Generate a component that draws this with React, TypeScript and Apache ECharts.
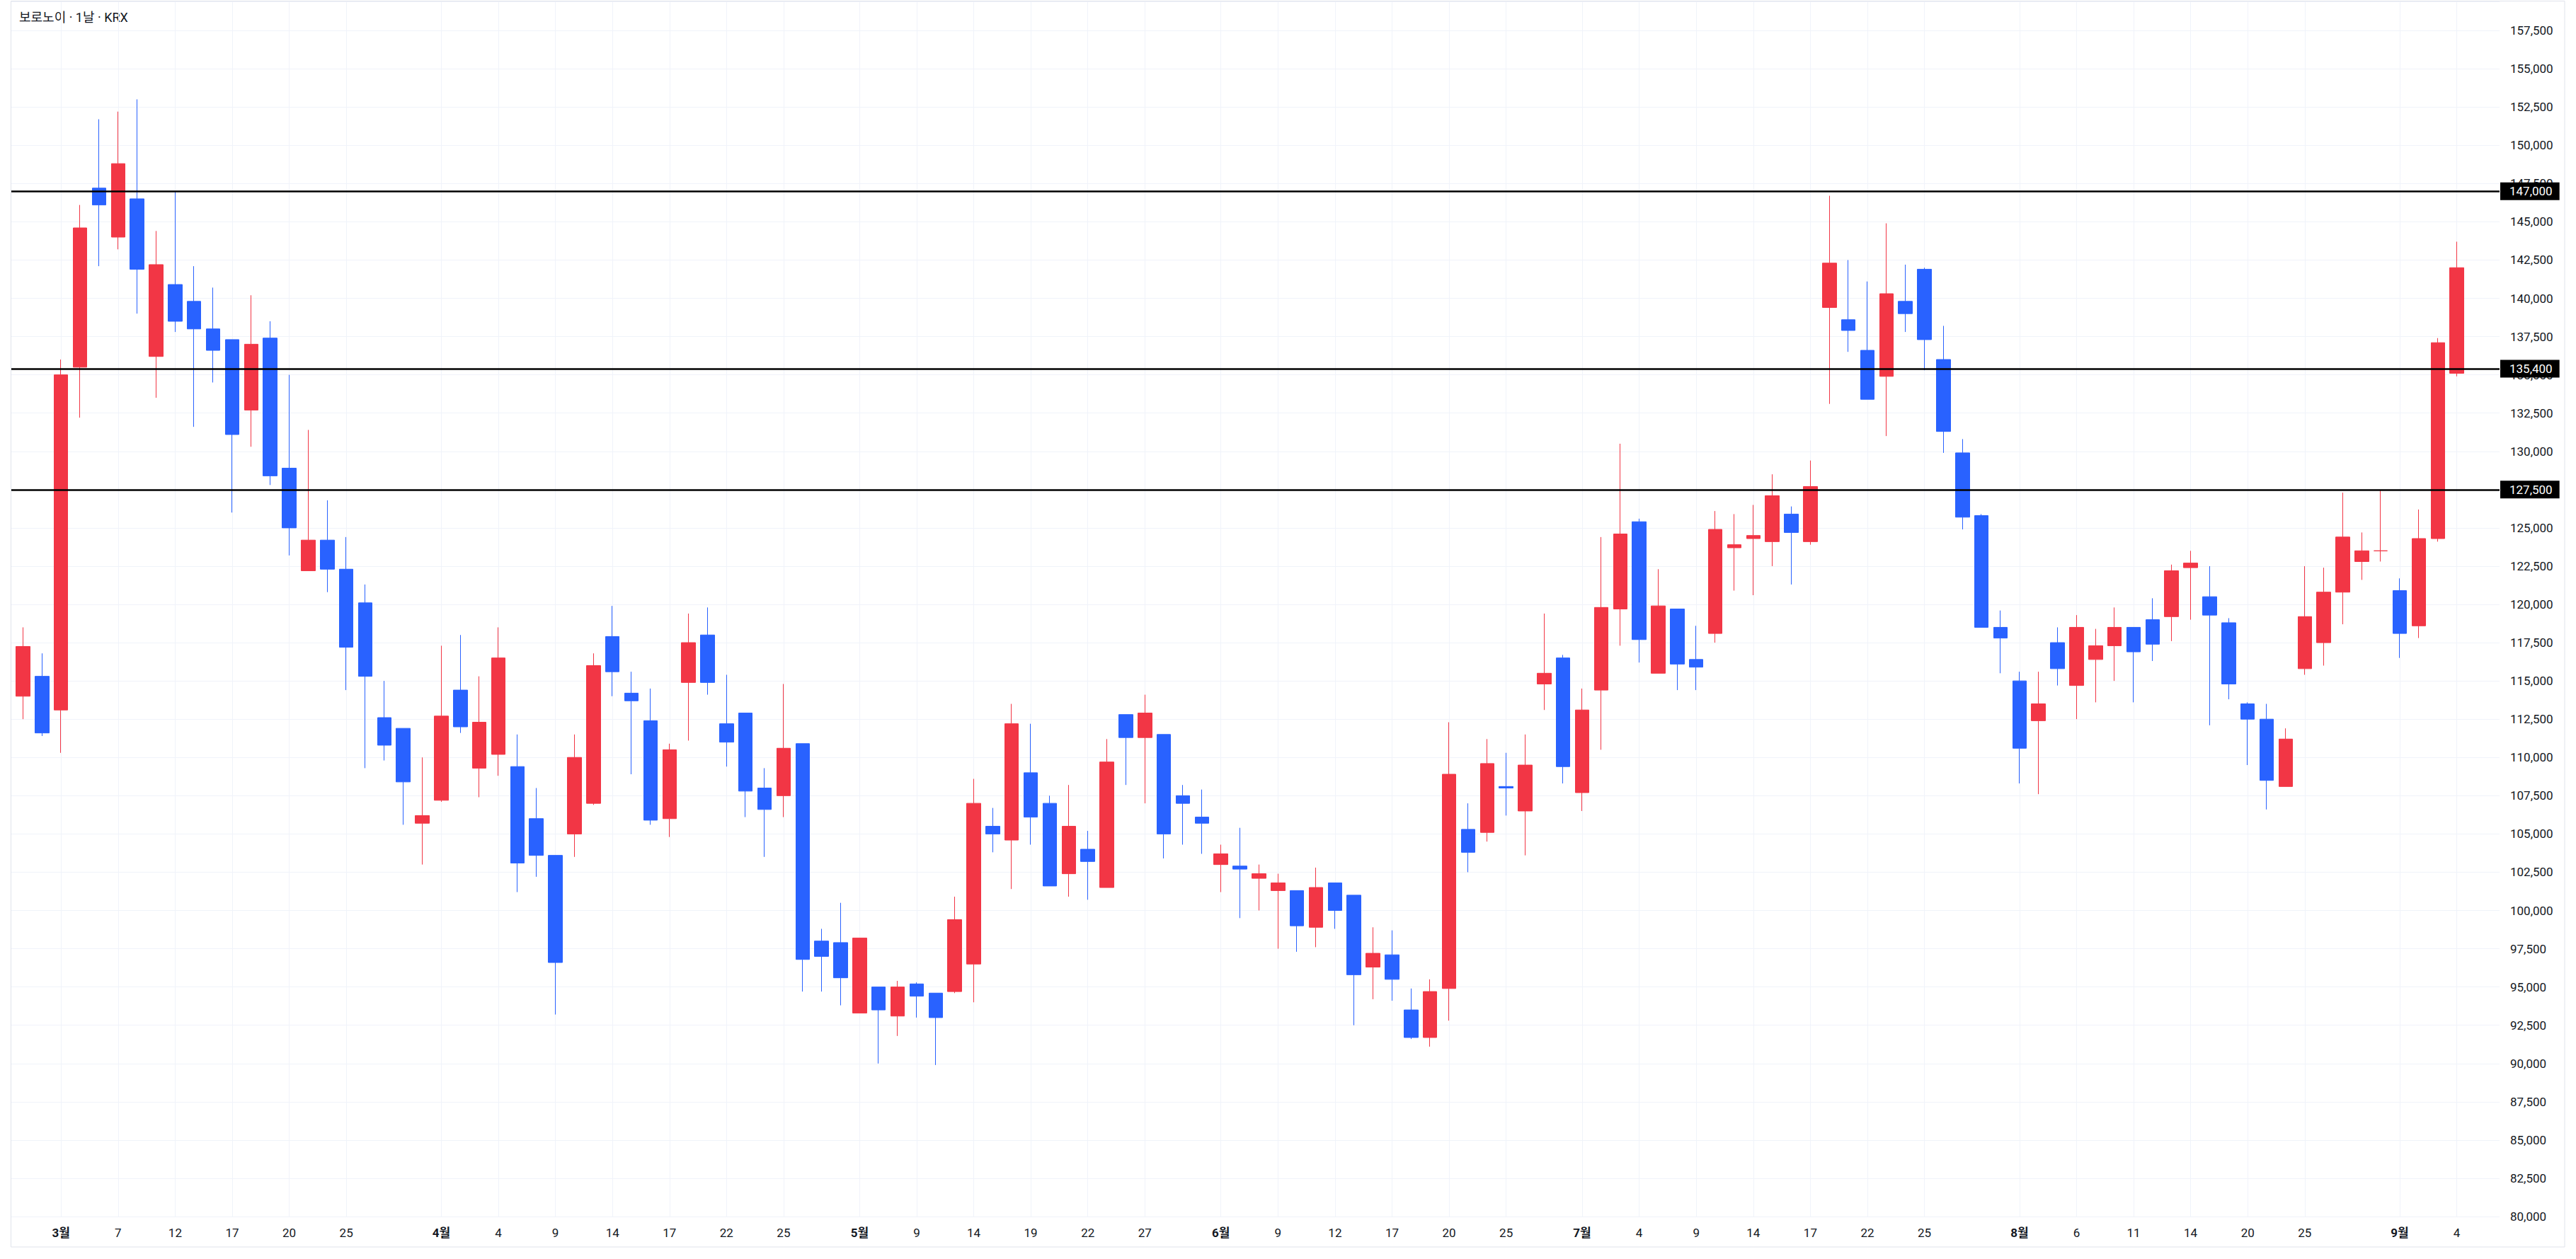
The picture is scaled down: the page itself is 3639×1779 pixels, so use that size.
import React, { useEffect, useRef } from 'react';
import * as echarts from 'echarts';

const dates = [
  '2025-02-27','2025-02-28',
  '2025-03-04','2025-03-05','2025-03-06','2025-03-07','2025-03-10','2025-03-11','2025-03-12','2025-03-13','2025-03-14','2025-03-17',
  '2025-03-18','2025-03-19','2025-03-20','2025-03-21','2025-03-24','2025-03-25','2025-03-26','2025-03-27','2025-03-28','2025-03-31',
  '2025-04-01','2025-04-02','2025-04-03','2025-04-04','2025-04-07','2025-04-08','2025-04-09','2025-04-10','2025-04-11','2025-04-14',
  '2025-04-15','2025-04-16','2025-04-17','2025-04-18','2025-04-21','2025-04-22','2025-04-23','2025-04-24','2025-04-25','2025-04-28',
  '2025-04-29','2025-04-30',
  '2025-05-02','2025-05-07','2025-05-08','2025-05-09','2025-05-12','2025-05-13','2025-05-14','2025-05-15','2025-05-16','2025-05-19',
  '2025-05-20','2025-05-21','2025-05-22','2025-05-23','2025-05-26','2025-05-27','2025-05-28','2025-05-29','2025-05-30',
  '2025-06-02','2025-06-04','2025-06-05','2025-06-09','2025-06-10','2025-06-11','2025-06-12','2025-06-13','2025-06-16','2025-06-17',
  '2025-06-18','2025-06-19','2025-06-20','2025-06-23','2025-06-24','2025-06-25','2025-06-26','2025-06-27','2025-06-30',
  '2025-07-01','2025-07-02','2025-07-03','2025-07-04','2025-07-07','2025-07-08','2025-07-09','2025-07-10','2025-07-11','2025-07-14',
  '2025-07-15','2025-07-16','2025-07-17','2025-07-18','2025-07-21','2025-07-22','2025-07-23','2025-07-24','2025-07-25','2025-07-28',
  '2025-07-29','2025-07-30','2025-07-31',
  '2025-08-01','2025-08-04','2025-08-05','2025-08-06','2025-08-07','2025-08-08','2025-08-11','2025-08-12','2025-08-13','2025-08-14',
  '2025-08-18','2025-08-19','2025-08-20','2025-08-21','2025-08-22','2025-08-25','2025-08-26','2025-08-27','2025-08-28','2025-08-29',
  '2025-09-01','2025-09-02','2025-09-03','2025-09-04',
];

const opens = [
  114000,115300,
  113100,135500,147200,144000,146500,136200,140900,139800,138000,137300,
  132700,137400,128900,122200,124200,122300,120100,112600,111900,105700,
  107200,114400,109300,110200,109400,106000,103600,105000,107000,117900,
  114200,112400,106000,114900,118000,112200,112900,108000,107500,110900,
  98000,97900,
  93300,95000,93100,95200,94600,94700,96500,105500,104600,109000,
  107000,102400,104000,101500,112800,111300,111500,107500,106100,
  103000,102900,102100,101300,101300,98900,101800,101000,96300,97100,
  93500,91700,94900,105300,105100,108100,106500,114800,116500,
  107700,114400,119700,125400,115500,119700,116400,118100,123700,124300,
  124100,125900,124100,139400,138600,136600,134900,139800,141900,136000,
  129900,125800,118500,
  115000,112400,117500,114700,116400,117300,118500,119000,119200,122400,
  120500,118800,113500,112500,108100,115800,117500,120800,122800,123500,
  120900,118600,124300,135100,
];

const highs = [
  118500,116800,
  136000,146100,151700,152200,153000,144400,147000,142100,140700,137300,
  140200,138500,135000,131400,126800,124400,121300,115000,111900,110000,
  117300,118000,115300,118500,111500,108000,103600,111500,116800,119900,
  115600,114500,110900,119400,119800,115400,112900,109300,114800,110900,
  98800,100500,
  98200,95000,95400,95300,94600,100900,108600,106700,113500,112200,
  107500,108200,105200,111200,112800,114100,111500,108200,107900,
  104300,105400,103000,102400,101300,102800,101800,101000,98900,98700,
  94900,95500,112300,107000,111200,110300,111500,119400,116700,
  114500,124400,130500,125600,122300,119700,118600,126100,125900,126500,
  128500,126400,129400,146700,142500,141100,144900,142200,142000,138200,
  130800,125900,119600,
  115600,115600,118500,119300,118400,119800,118500,120400,122600,123500,
  122500,119100,113600,113500,111900,122500,122400,127300,124700,127450,
  121700,126200,137400,143700,
];

const lows = [
  112500,111400,
  110300,132200,142100,143200,139000,133500,137800,131600,134500,126000,
  130300,127800,123200,122200,120800,114400,109300,109800,105600,103000,
  107100,111600,107400,108800,101200,102200,93200,103500,106900,114000,
  108900,105600,104800,111100,114100,109400,106100,103500,106100,94700,
  94700,93800,
  93300,90000,91800,93000,89900,94600,94000,103800,101400,104300,
  101600,100900,100700,101500,108200,107000,103400,104300,103700,
  101200,99500,100000,97500,97300,97600,98800,92500,94200,94100,
  91600,91100,92800,102500,104500,106200,103600,113100,108300,
  106500,110500,117300,116200,115500,114400,114400,117500,120900,120600,
  122500,121300,123900,133100,136500,133400,131000,137800,135300,129900,
  124900,118500,115500,
  108300,107600,114700,112500,113600,115000,113600,116300,117600,119000,
  112100,113800,109500,106600,108100,115400,116000,118700,121600,122800,
  116500,117800,124100,134900,
];

const closes = [
  117250,111600,
  135000,144600,146100,148800,141900,142200,138500,138000,136600,131100,
  137000,128400,125000,124200,122300,117200,115300,110800,108400,106200,
  112700,112000,112300,116500,103100,103600,96600,110000,116000,115600,
  113700,105900,110500,117500,114900,111000,107800,106600,110600,96800,
  97000,95600,
  98200,93500,95000,94400,93000,99400,107000,105000,112200,106100,
  101600,105500,103200,109700,111300,112900,105000,107000,105700,
  103700,102700,102400,101800,99000,101500,100000,95800,97200,95500,
  91700,94700,108900,103800,109600,108000,109500,115500,109400,
  113100,119800,124600,117700,119900,116100,115900,124900,123900,124500,
  127100,124700,127700,142300,137900,133400,140300,139000,137300,131300,
  125700,118500,117800,
  110600,113500,115800,118500,117300,118500,116900,117400,122200,122700,
  119300,114800,112500,108500,111200,119200,120800,124400,123500,123500,
  118100,124300,137100,142000,
];

const tickIndex = [
  2, 5, 8, 11, 14, 17,
  22, 25, 28, 31, 34, 37, 40,
  44, 47, 50, 53, 56, 59,
  63, 66, 69, 72, 75, 78,
  82, 85, 88, 91, 94, 97, 100,
  105, 108, 111, 114, 117, 120,
  125, 128,
];
const tickLabels = [
  '3월', '7', '12', '17', '20', '25',
  '4월', '4', '9', '14', '17', '22', '25',
  '5월', '9', '14', '19', '22', '27',
  '6월', '9', '12', '17', '20', '25',
  '7월', '4', '9', '14', '17', '22', '25',
  '8월', '6', '11', '14', '20', '25',
  '9월', '4',
];

const priceLevels = [147000, 135400, 127500];

const yMin = 80000;
const yMax = 159400;
const yStep = 2500;

const titleText = '보로노이 · 1날 · KRX';

export default function App() {
  const ref = useRef<HTMLDivElement>(null);

  useEffect(() => {
    document.body.style.margin = '0';
    const el = ref.current;
    if (!el) return;
    const chart = echarts.init(el, null, { renderer: 'svg' });
    const font = "Roboto, 'Noto Sans CJK KR', sans-serif";
    const fmt = (v: number) => Number(v).toLocaleString('en-US');
    const labelMap = new Map<number, string>();
    tickIndex.forEach((i, k) => labelMap.set(i, tickLabels[k]));
    const categories = [...dates, '', ''];
    const ohlc = dates.map((_, i) => [opens[i], closes[i], lows[i], highs[i]]);

    const option: any = {
      animation: false,
      backgroundColor: '#ffffff',
      grid: [
        { left: 16, right: 108, top: 2, bottom: 60 },
        { left: 19.07, right: 101.2, top: 2, bottom: 60 },
      ],
      xAxis: [
        { type: 'value', gridIndex: 0, min: 0, max: 1, show: false },
        {
          type: 'category',
          gridIndex: 1,
          data: categories,
          boundaryGap: true,
          axisLine: { show: false },
          axisTick: { show: false },
          axisLabel: {
            interval: (i: number) => labelMap.has(i),
            margin: 14,
            color: '#131722',
            fontSize: 17,
            fontFamily: font,
            formatter: (_v: string, i: number) => {
              const t = labelMap.get(i) || '';
              return t.indexOf('월') >= 0 ? '{m|' + t + '}' : t;
            },
            rich: {
              m: { fontWeight: 'bold', fontSize: 17, color: '#131722', fontFamily: font },
            },
          },
          splitLine: {
            show: true,
            interval: (i: number) => labelMap.has(i),
            alignWithLabel: true,
            lineStyle: { color: '#f0f3fa', width: 1 },
          },
        },
      ],
      yAxis: [
        {
          type: 'value',
          gridIndex: 0,
          position: 'right',
          min: yMin,
          max: yMax,
          interval: yStep,
          axisLine: { show: false },
          axisTick: { show: false },
          axisLabel: {
            margin: 15,
            color: '#131722',
            fontSize: 17,
            fontFamily: font,
            showMaxLabel: false,
            formatter: (v: number) => fmt(v),
          },
          splitLine: { show: true, lineStyle: { color: '#f0f3fa', width: 1 } },
        },
        {
          type: 'value',
          gridIndex: 1,
          min: yMin,
          max: yMax,
          show: false,
          splitLine: { show: false },
        },
      ],
      series: [
        {
          type: 'candlestick',
          xAxisIndex: 1,
          yAxisIndex: 1,
          barWidth: 20,
          data: ohlc,
          itemStyle: {
            color: '#F23645',
            color0: '#2962FF',
            borderColor: '#F23645',
            borderColor0: '#2962FF',
            borderWidth: 1,
          },
        },
        {
          type: 'line',
          xAxisIndex: 0,
          yAxisIndex: 0,
          data: [[0.5, 120000]],
          symbol: 'none',
          showSymbol: false,
          silent: true,
          lineStyle: { opacity: 0 },
          markLine: {
            silent: true,
            symbol: ['none', 'none'],
            lineStyle: { color: '#000000', width: 2.5, type: 'solid' },
            label: {
              show: true,
              position: 'end',
              distance: 1,
              formatter: (p: any) => fmt(p.value),
              color: '#ffffff',
              backgroundColor: '#000000',
              padding: [4, 10, 4, 13],
              fontSize: 17,
              fontFamily: font,
            },
            data: priceLevels.map((v) => ({ yAxis: v })),
          },
        },
      ],
      graphic: [
        {
          type: 'rect',
          silent: true,
          shape: { x: 15.5, y: 1.5, width: 3607.5, height: 1760.5 },
          style: { fill: 'none', stroke: '#e0e3eb', lineWidth: 1 },
        },
        {
          type: 'text',
          x: 27,
          y: 24,
          silent: true,
          style: {
            text: titleText,
            fontSize: 18,
            fontFamily: font,
            fill: '#131722',
            verticalAlign: 'middle',
          },
        },
      ],
    };

    chart.setOption(option);
    return () => {
      chart.dispose();
    };
  }, []);

  return <div ref={ref} style={{ width: '3639px', height: '1779px' }} />;
}
